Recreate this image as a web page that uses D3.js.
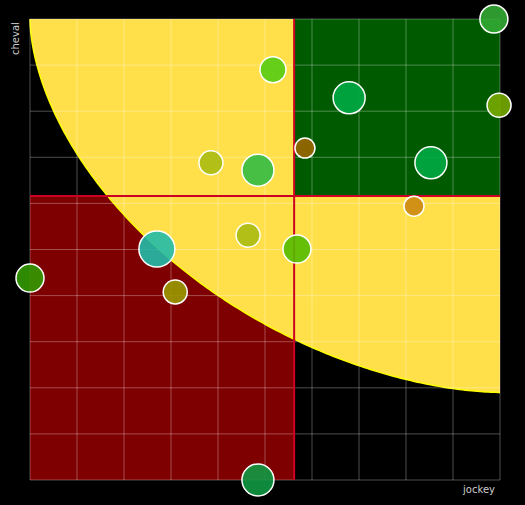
<!DOCTYPE html>
<html><head><meta charset="utf-8">
<script src="https://cdn.jsdelivr.net/npm/d3@7"></script>
<style>body{margin:0;background:#000}</style></head>
<body><svg id="c" width="525" height="505"></svg>
<script>
const xs=[9.87,5.17,6.79,9.98,5.85,3.85,4.85,8.53,8.17,2.70,4.64,5.68,0,3.09,4.85];
const ys=[10,8.9,8.29,8.13,7.2,6.88,6.72,6.88,5.94,5.01,5.31,5.01,4.38,4.08,0];
const sizes=[14,13,16,12,10,12,16,16,10,18,12,14,14,12,16];
const colors=["#33aa33","#55cc11","#00aa44","#77aa00","#996600","#aabb11","#33bb44","#00aa44","#cc8811","#22bbaa","#aabb11","#55bb00","#339900","#999900","#119944"];
const xSplit=5.62, ySplit=6.16, curveEndY=1.9, curveExp=1.75;
const svg=d3.select("#c");
svg.append("rect").attr("width",525).attr("height",505).attr("fill","#000");
const x=d3.scaleLinear().domain([0,10]).range([30,500]);
const y=d3.scaleLinear().domain([0,10]).range([480,19]);
svg.append("rect").attr("x",x(0)).attr("y",y(ySplit)).attr("width",x(xSplit)-x(0)).attr("height",y(0)-y(ySplit)).attr("fill","#7f0000");
// yellow superellipse centered at top-right corner
const ry=10-curveEndY;
const pts=d3.range(0,1.0001,0.005).map(t=>{
  const a=t*Math.PI/2;
  const c=Math.pow(Math.cos(a),2/curveExp), s=Math.pow(Math.sin(a),2/curveExp);
  return [10-10*c, 10-ry*s];
});
const line=d3.line().x(d=>x(d[0])).y(d=>y(d[1]));
svg.append("path").attr("d",line([[10,10]].concat(pts))+"Z").attr("fill","#ffe04a").attr("stroke","none");
svg.append("path").attr("d",line(pts)).attr("fill","none").attr("stroke","#ffff00").attr("stroke-width",1.5);
svg.append("rect").attr("x",x(xSplit)).attr("y",y(10)).attr("width",x(10)-x(xSplit)).attr("height",y(ySplit)-y(10)).attr("fill","#005a00");
const g=svg.append("g");
d3.range(0,11).forEach(i=>{
 g.append("line").attr("x1",x(i)).attr("x2",x(i)).attr("y1",y(0)).attr("y2",y(10)).attr("stroke","rgba(255,255,255,0.3)");
 g.append("line").attr("y1",y(i)).attr("y2",y(i)).attr("x1",x(0)).attr("x2",x(10)).attr("stroke","rgba(255,255,255,0.3)");
});
svg.append("line").attr("x1",x(xSplit)).attr("x2",x(xSplit)).attr("y1",y(10)).attr("y2",y(0)).attr("stroke","#cc0022").attr("stroke-width",2);
svg.append("line").attr("x1",x(0)).attr("x2",x(10)).attr("y1",y(ySplit)).attr("y2",y(ySplit)).attr("stroke","#cc0022").attr("stroke-width",2);
svg.selectAll("circle.p").data(xs).join("circle").attr("class","p")
 .attr("cx",(d)=>x(d)).attr("cy",(d,i)=>y(ys[i])).attr("r",(d,i)=>sizes[i])
 .attr("fill",(d,i)=>colors[i]).attr("fill-opacity",0.9).attr("stroke","#fff").attr("stroke-width",1.5);
svg.append("text").attr("transform","translate(19,55) rotate(-90)").attr("fill","#ccc").attr("font-family","DejaVu Sans, sans-serif").attr("font-size",10).text("cheval");
svg.append("text").attr("x",495).attr("y",493).attr("text-anchor","end").attr("fill","#ccc").attr("font-family","DejaVu Sans, sans-serif").attr("font-size",10).text("jockey");
</script></body></html>
